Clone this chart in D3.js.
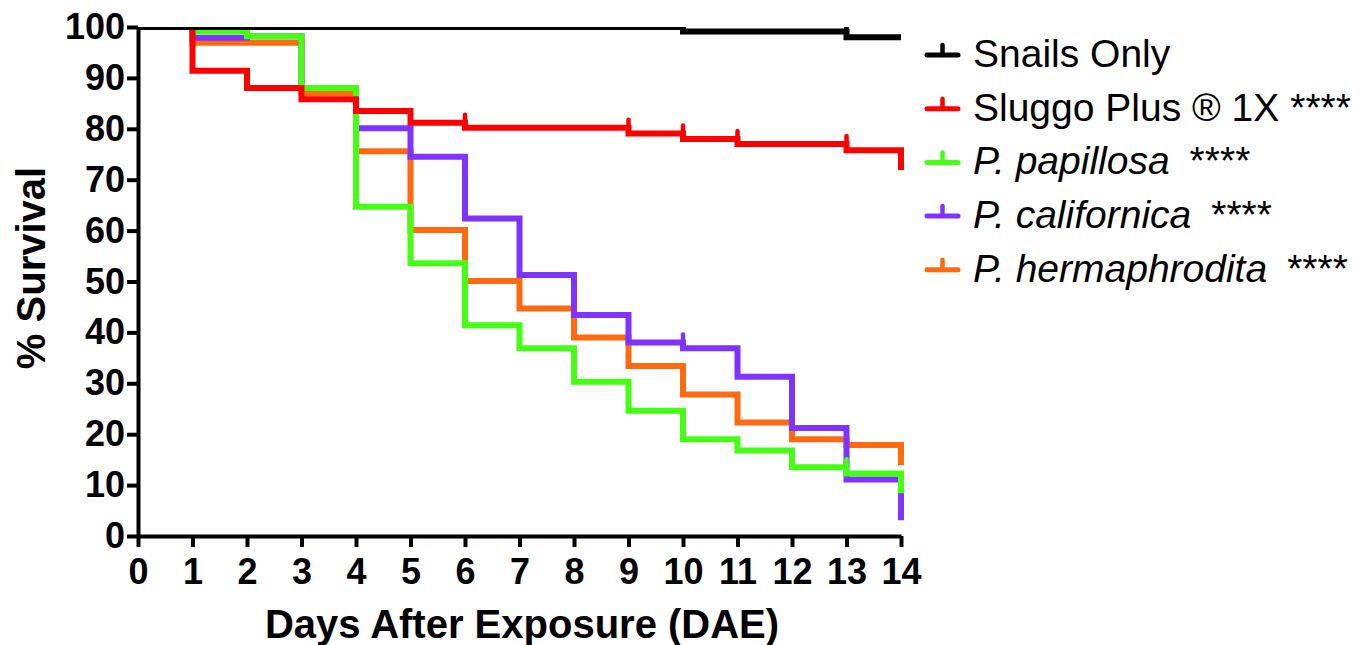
<!DOCTYPE html>
<html>
<head>
<meta charset="utf-8">
<script src="https://cdn.jsdelivr.net/npm/d3@7"></script>
<style>
  body { margin: 0; background: #fff; }
  svg { display: block; font-family: "Liberation Sans", Arial, sans-serif; }
</style>
</head>
<body>
<script>
    //survival data: value in interval [day, day+1), last entry is the value at day 14
    var days = d3.range(0, 15);
    var snailsOnly   = [100, 100, 100, 100, 100, 100, 100, 100, 100, 100, 99.1, 99.1, 99.1, 98.0, 98.0];
    var sluggoPlus   = [100, 91.4, 88.0, 85.8, 83.5, 81.2, 80.2, 80.2, 80.2, 79.1, 78.0, 77.0, 77.0, 75.8, 71.9];
    var papillosa    = [100, 99.1, 98.2, 88.0, 64.7, 53.6, 41.4, 36.9, 30.3, 24.6, 19.0, 16.8, 13.5, 12.3, 8.4];
    var californica  = [100, 97.9, 98.2, 88.0, 80.1, 74.5, 62.4, 51.3, 43.4, 38.0, 36.9, 31.3, 21.2, 11.1, 3.1];
    var hermaphrodita = [100, 96.9, 96.9, 87.0, 75.6, 60.1, 50.1, 44.7, 39.0, 33.4, 27.8, 22.3, 19.0, 17.9, 13.9];

    //censored observations (day of tick mark)
    var snailsCensor = [13];
    var sluggoCensor = [6, 9, 10, 11, 13];
    var papillosaCensor = [13];
    var californicaCensor = [10];
    var hermaCensor = [];

    var yTicks = [0, 10, 20, 30, 40, 50, 60, 70, 80, 90, 100];

    var series = [
        {name: "Snails Only", stars: "", italic: false, color: "#000000", values: snailsOnly, censor: snailsCensor},
        {name: "Sluggo Plus \u00AE 1X", stars: "****", italic: false, color: "#ff0000", values: sluggoPlus, censor: sluggoCensor},
        {name: "P. papillosa", stars: "****", italic: true, color: "#44ff14", values: papillosa, censor: papillosaCensor},
        {name: "P. californica", stars: "****", italic: true, color: "#8033ff", values: californica, censor: californicaCensor},
        {name: "P. hermaphrodita", stars: "****", italic: true, color: "#ff6a10", values: hermaphrodita, censor: hermaCensor}
    ];

    var width = 1369,
        height = 645;

    var svg = d3.select("body")
        .append("svg")
        .attr("width", width)
        .attr("height", height);

    var x = d3.scaleLinear().domain([0, 14]).range([138, 901]);
    var y = d3.scaleLinear().domain([0, 100]).range([536, 27]);

    //clip so lines sitting on 100 are cut in half like the original
    svg.append("clipPath")
        .attr("id", "plotclip")
        .append("rect")
        .attr("x", x(0))
        .attr("y", y(100))
        .attr("width", x(14) - x(0) + 6)
        .attr("height", y(0) - y(100) + 6);

    var line = d3.line()
        .x(function(d){ return x(d[0]); })
        .y(function(d){ return y(d[1]); })
        .curve(d3.curveStepAfter);

    var plot = svg.append("g").attr("clip-path", "url(#plotclip)");

    //draw in reverse so Snails Only ends up on top
    series.slice().reverse().forEach(function(s){
        var pts = days.map(function(d, i){ return [d, s.values[i]]; });
        plot.append("path")
            .datum(pts)
            .attr("fill", "none")
            .attr("stroke", s.color)
            .attr("stroke-width", 6)
            .attr("d", line);

        s.censor.forEach(function(c){
            var v = s.values[c - 1];
            plot.append("line")
                .attr("x1", x(c)).attr("x2", x(c))
                .attr("y1", y(v)).attr("y2", y(v) - 8)
                .attr("stroke", s.color)
                .attr("stroke-width", 4.5)
                .attr("stroke-linecap", "round");
        });
    });

    //axes
    var yAxis = d3.axisLeft(y)
        .tickValues(yTicks)
        .tickSize(11)
        .tickSizeOuter(0)
        .tickPadding(2);

    var xAxis = d3.axisBottom(x)
        .tickValues(days)
        .tickSize(11)
        .tickSizeOuter(0)
        .tickPadding(11)
        .tickFormat(d3.format("d"));

    var gy = svg.append("g")
        .attr("transform", "translate(" + x(0) + ",0)")
        .call(yAxis);

    var gx = svg.append("g")
        .attr("transform", "translate(0," + y(0) + ")")
        .call(xAxis);

    [gx, gy].forEach(function(g){
        g.select(".domain").attr("stroke", "#000").attr("stroke-width", 4);
        g.selectAll(".tick line").attr("stroke", "#000").attr("stroke-width", 4);
        g.selectAll(".tick text")
            .attr("fill", "#000")
            .style("font-family", "'Liberation Sans', Arial, sans-serif")
            .style("font-size", "36px")
            .style("font-weight", "bold");
    });

    //axis titles
    svg.append("text")
        .attr("x", 522)
        .attr("y", 638)
        .attr("text-anchor", "middle")
        .style("font-size", "40px")
        .style("font-weight", "bold")
        .text("Days After Exposure (DAE)");

    svg.append("text")
        .attr("transform", "translate(45,268) rotate(-90)")
        .attr("text-anchor", "middle")
        .style("font-size", "40px")
        .style("font-weight", "bold")
        .text("% Survival");

    //legend
    var legend = svg.append("g");
    series.forEach(function(s, i){
        var base = 67 + i * 53.7;
        var row = legend.append("g").attr("transform", "translate(0," + base + ")");
        row.append("line")
            .attr("x1", 927).attr("x2", 958)
            .attr("y1", -12).attr("y2", -12)
            .attr("stroke", s.color)
            .attr("stroke-width", 5)
            .attr("stroke-linecap", "round");
        row.append("line")
            .attr("x1", 942.5).attr("x2", 942.5)
            .attr("y1", -12).attr("y2", -22)
            .attr("stroke", s.color)
            .attr("stroke-width", 4.5)
            .attr("stroke-linecap", "round");
        var t = row.append("text")
            .attr("x", 973)
            .attr("y", 0)
            .style("font-size", "39px");
        t.append("tspan")
            .style("font-style", s.italic ? "italic" : "normal")
            .text(s.name);
        if (s.stars) {
            t.append("tspan")
                .attr("dx", s.italic ? 20 : 11)
                .text(s.stars);
        }
    });
</script>
</body>
</html>
